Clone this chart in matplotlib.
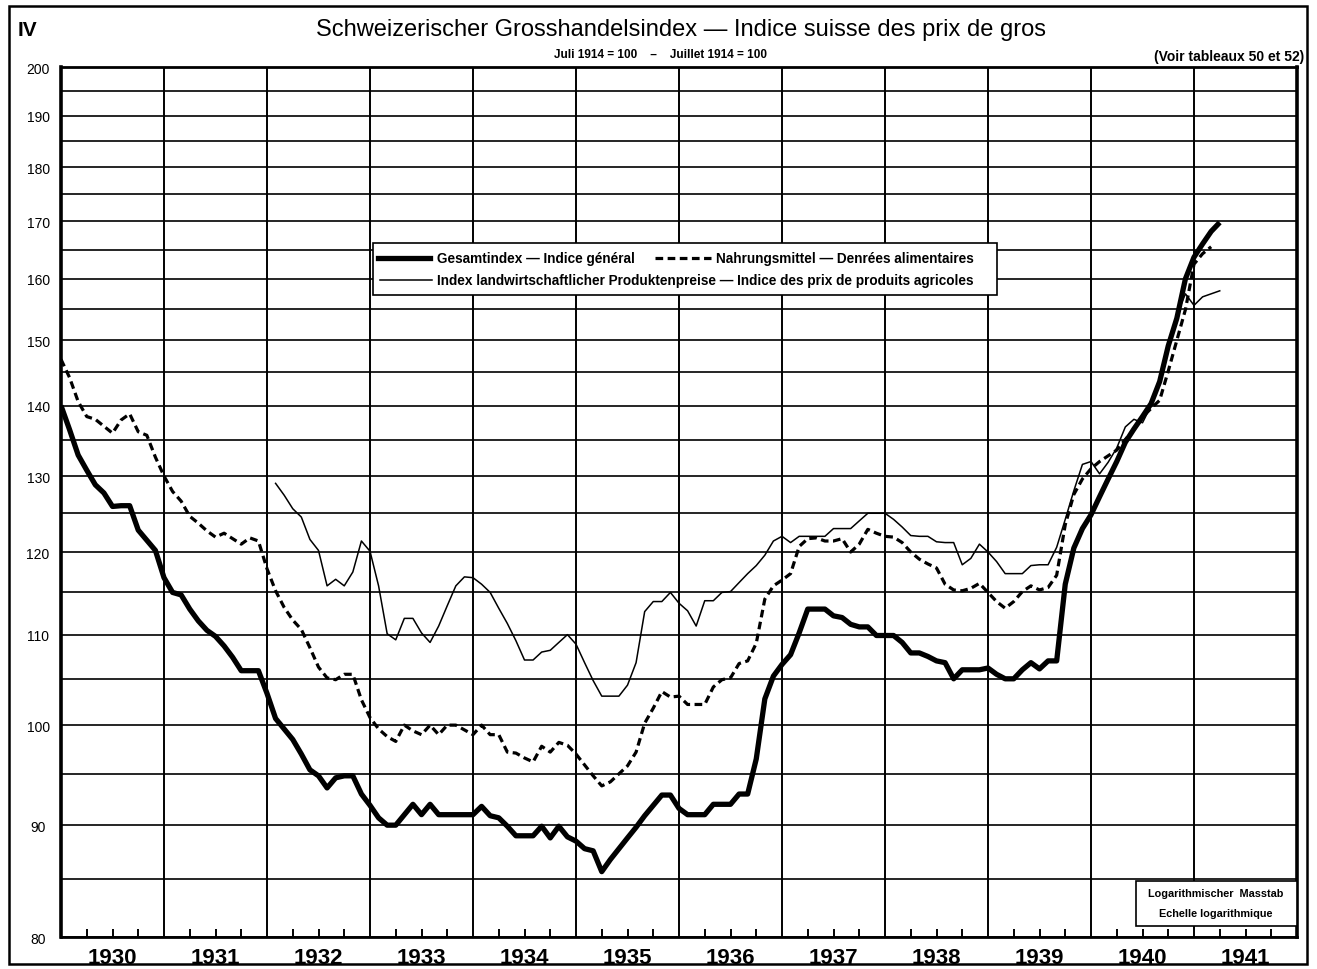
import matplotlib
matplotlib.use("Agg")
import matplotlib.pyplot as plt
import numpy as np
from matplotlib.lines import Line2D
from matplotlib.patches import Rectangle

plt.rcParams['font.family'] = ['Liberation Sans', 'DejaVu Sans']

# ---------------- data (monthly, starting January of the first year) ----------------
first_year = 1930
years = list(range(1930, 1942))
year_labels = [str(y) for y in years]
y_label_values = [80, 90, 100, 110, 120, 130, 140, 150, 160, 170, 180, 190, 200]
y_minor_values = [85, 95, 105, 115, 125, 135, 145, 155, 165, 175, 185, 195]

# Gesamtindex - Indice général
gesamt_1930 = [140.0, 136.5, 132.9, 130.8, 128.8, 127.7, 125.9, 126.0, 126.0, 122.8, 121.5, 120.2]
gesamt_1931 = [116.8, 115.0, 114.7, 113.0, 111.6, 110.5, 109.8, 108.7, 107.4, 105.9, 105.9, 105.9]
gesamt_1932 = [103.4, 100.7, 99.6, 98.5, 97.0, 95.4, 94.8, 93.6, 94.6, 94.8, 94.8, 93.0]
gesamt_1933 = [91.9, 90.7, 90.0, 90.0, 91.0, 92.0, 91.0, 92.0, 91.0, 91.0, 91.0, 91.0]
gesamt_1934 = [91.0, 91.8, 90.9, 90.7, 89.9, 89.0, 89.0, 89.0, 89.9, 88.8, 89.9, 88.9]
gesamt_1935 = [88.5, 87.8, 87.6, 85.7, 86.8, 87.8, 88.8, 89.8, 90.9, 91.9, 92.9, 92.9]
gesamt_1936 = [91.6, 91.0, 91.0, 91.0, 92.0, 92.0, 92.0, 93.0, 93.0, 96.5, 102.8, 105.3]
gesamt_1937 = [106.6, 107.7, 110.2, 113.0, 113.0, 113.0, 112.2, 112.0, 111.2, 110.9, 110.9, 109.9]
gesamt_1938 = [109.9, 109.9, 109.1, 107.9, 107.9, 107.5, 107.0, 106.8, 105.0, 106.0, 106.0, 106.0]
gesamt_1939 = [106.2, 105.5, 105.0, 105.0, 106.0, 106.8, 106.1, 107.0, 107.0, 116.0, 120.5, 123.0]
gesamt_1940 = [124.8, 127.2, 129.6, 132.0, 134.7, 136.6, 138.4, 140.3, 143.6, 149.1, 153.5, 160.0]
gesamt_1941 = [163.7, 166.0, 168.2, 169.8]

# Nahrungsmittel - Denrées alimentaires
nahrung_1930 = [147.0, 144.2, 140.6, 138.4, 138.0, 137.0, 136.0, 137.9, 138.8, 136.2, 135.7, 132.6]
nahrung_1931 = [130.0, 127.9, 126.6, 124.6, 123.7, 122.7, 121.9, 122.4, 121.7, 121.0, 121.8, 121.4]
nahrung_1932 = [117.9, 115.2, 113.2, 111.7, 110.6, 108.5, 106.3, 105.1, 104.9, 105.5, 105.5, 102.7]
nahrung_1933 = [100.8, 99.6, 98.8, 98.3, 100.0, 99.4, 99.0, 100.0, 99.0, 100.0, 100.0, 99.5]
nahrung_1934 = [99.0, 100.0, 99.0, 99.0, 97.2, 97.1, 96.6, 96.2, 97.8, 97.2, 98.2, 97.9]
nahrung_1935 = [97.0, 95.9, 94.8, 93.8, 94.2, 95.0, 95.8, 97.2, 100.2, 101.8, 103.6, 103.0]
nahrung_1936 = [103.1, 102.2, 102.2, 102.2, 104.1, 104.9, 105.1, 106.7, 107.0, 109.0, 114.2, 115.8]
nahrung_1937 = [116.5, 117.3, 120.7, 121.7, 121.8, 121.4, 121.4, 121.7, 120.0, 121.0, 122.9, 122.4]
nahrung_1938 = [122.0, 121.9, 121.2, 120.0, 119.1, 118.5, 118.0, 116.0, 115.3, 115.2, 115.5, 116.1]
nahrung_1939 = [115.0, 113.9, 113.1, 113.9, 115.1, 115.8, 115.3, 115.6, 117.1, 123.5, 127.5, 129.6]
nahrung_1940 = [131.0, 132.0, 132.8, 133.6, 135.1, 136.5, 138.3, 139.6, 140.8, 145.2, 150.0, 154.9]
nahrung_1941 = [162.5, 164.3, 165.5]

# Index landwirtschaftlicher Produktenpreise (begins February 1932)
agrar_first_month = 25
agrar_1932 = [129.0, 127.4, 125.6, 124.5, 121.6, 120.2, 115.8, 116.6, 115.8, 117.5, 121.4]
agrar_1933 = [120.1, 115.8, 110.1, 109.4, 111.9, 111.9, 110.2, 109.1, 111.0, 113.4, 115.8, 116.9]
agrar_1934 = [116.8, 116.0, 115.0, 113.1, 111.3, 109.3, 107.1, 107.1, 108.0, 108.2, 109.1, 110.0]
agrar_1935 = [108.9, 106.8, 104.8, 103.1, 103.1, 103.1, 104.3, 106.8, 112.7, 113.9, 113.9, 115.0]
agrar_1936 = [113.7, 112.8, 111.0, 114.0, 114.0, 115.0, 115.1, 116.2, 117.3, 118.3, 119.6, 121.4]
agrar_1937 = [122.0, 121.2, 122.0, 122.0, 122.0, 122.0, 123.0, 123.0, 123.0, 124.0, 125.0, 125.0]
agrar_1938 = [125.0, 124.2, 123.2, 122.1, 122.0, 122.0, 121.3, 121.2, 121.2, 118.4, 119.2, 121.0]
agrar_1939 = [120.0, 118.8, 117.3, 117.3, 117.3, 118.3, 118.4, 118.4, 120.6, 124.2, 128.0, 131.6]
agrar_1940 = [132.0, 130.3, 131.9, 133.9, 136.9, 138.0, 137.5, 140.0, 143.5, 149.0, 154.0, 157.5]
agrar_1941 = [155.6, 157.0, 157.5, 158.0]

gesamt = (gesamt_1930 + gesamt_1931 + gesamt_1932 + gesamt_1933 + gesamt_1934 + gesamt_1935 +
          gesamt_1936 + gesamt_1937 + gesamt_1938 + gesamt_1939 + gesamt_1940 + gesamt_1941)
nahrung = (nahrung_1930 + nahrung_1931 + nahrung_1932 + nahrung_1933 + nahrung_1934 + nahrung_1935 +
           nahrung_1936 + nahrung_1937 + nahrung_1938 + nahrung_1939 + nahrung_1940 + nahrung_1941)
agrar = (agrar_1932 + agrar_1933 + agrar_1934 + agrar_1935 + agrar_1936 + agrar_1937 +
         agrar_1938 + agrar_1939 + agrar_1940 + agrar_1941)


def month_x(start, n):
    return first_year + (start + np.arange(n)) / 12.0


# ---------------- figure ----------------
W, H = 1317, 970
fig = plt.figure(figsize=(W / 100, H / 100), dpi=100)
fig.patch.set_facecolor('white')

ax_left, ax_right, ax_top, ax_bottom = 61, 1297, 68, 938
ax = fig.add_axes([ax_left / W, 1 - ax_bottom / H, (ax_right - ax_left) / W, (ax_bottom - ax_top) / H])
ax.set_yscale('log')
ax.set_ylim(80, 200)
ax.set_xlim(years[0], years[-1] + 1)

# horizontal grid
ax.set_yticks(y_label_values)
ax.set_yticklabels([str(v) for v in y_label_values])
ax.set_yticks(y_minor_values, minor=True)
ax.yaxis.set_minor_formatter(matplotlib.ticker.NullFormatter())
ax.grid(axis='y', which='both', color='black', linewidth=1.2)
ax.tick_params(axis='y', which='both', length=0, pad=16.5, labelsize=10)
for t in ax.get_yticklabels():
    t.set_horizontalalignment('center')

# vertical year lines
for yb in years[1:]:
    ax.axvline(yb, color='black', linewidth=1.4, zorder=1)

# x ticks: quarter marks (major) + year labels (minor, centred)
quarters = [y + q for y in years for q in (0.25, 0.5, 0.75)]
ax.xaxis.remove_overlapping_locs = False
ax.set_xticks(quarters)
ax.set_xticklabels([])
ax.tick_params(axis='x', which='major', direction='in', length=6, width=1.4)
ax.set_xticks([y + 0.5 for y in years], minor=True)
ax.set_xticklabels(year_labels, minor=True)
ax.tick_params(axis='x', which='minor', length=0, pad=7, labelsize=16)
for t in ax.get_xticklabels(minor=True):
    t.set_fontweight('bold')

for s in ax.spines.values():
    s.set_linewidth(2.0)
ax.spines['left'].set_linewidth(2.6)
ax.spines['right'].set_linewidth(2.6)

# series
ax.plot(month_x(0, len(gesamt)), gesamt, color='black', linewidth=3.8,
        solid_joinstyle='round', solid_capstyle='butt', zorder=5)
ax.plot(month_x(0, len(nahrung)), nahrung, color='black', linewidth=2.3,
        linestyle=(0, (2.4, 1.4)), dash_joinstyle='round', dash_capstyle='butt', zorder=4)
ax.plot(month_x(agrar_first_month, len(agrar)), agrar, color='black', linewidth=1.1,
        solid_joinstyle='round', zorder=3)

# ---------------- texts ----------------
def fx(px):
    return px / W


def fy(py):
    return 1 - py / H


fig.text(fx(27), fy(30), 'IV', fontsize=15, fontweight='bold', ha='center', va='center')
fig.text(fx(681), fy(30),
         'Schweizerischer Grosshandelsindex \u2014 Indice suisse des prix de gros',
         fontsize=17, ha='center', va='center')
fig.text(fx(660), fy(55), 'Juli 1914 = 100    \u2013    Juillet 1914 = 100',
         fontsize=8.5, fontweight='bold', ha='center', va='center')
fig.text(fx(1304), fy(57), '(Voir tableaux 50 et 52)',
         fontsize=10, fontweight='bold', ha='right', va='center')

# legend box
fig.add_artist(Rectangle((fx(373), fy(296)), fx(997) - fx(373), fy(244) - fy(296),
                         transform=fig.transFigure, facecolor='white', edgecolor='black',
                         linewidth=1.2, zorder=10))
row1, row2 = 259, 281
leg_size = 9.8
fig.add_artist(Line2D([fx(378), fx(430)], [fy(row1), fy(row1)], transform=fig.transFigure,
                      color='black', linewidth=3.8, zorder=11))
fig.text(fx(437), fy(row1), 'Gesamtindex \u2014 Indice général', fontsize=leg_size,
         fontweight='bold', ha='left', va='center', zorder=11)
fig.add_artist(Line2D([fx(655), fx(711)], [fy(row1), fy(row1)], transform=fig.transFigure,
                      color='black', linewidth=2.3, linestyle=(0, (2.4, 1.4)), zorder=11))
fig.text(fx(716), fy(row1), 'Nahrungsmittel \u2014 Denrées alimentaires', fontsize=leg_size,
         fontweight='bold', ha='left', va='center', zorder=11)
fig.add_artist(Line2D([fx(380), fx(432)], [fy(row2), fy(row2)], transform=fig.transFigure,
                      color='black', linewidth=1.1, zorder=11))
fig.text(fx(437), fy(row2),
         'Index landwirtschaftlicher Produktenpreise \u2014 Indice des prix de produits agricoles',
         fontsize=leg_size, fontweight='bold', ha='left', va='center', zorder=11)

# scale note box
fig.add_artist(Rectangle((fx(1136), fy(927)), fx(1297) - fx(1136), fy(882) - fy(927),
                         transform=fig.transFigure, facecolor='white', edgecolor='black',
                         linewidth=1.2, zorder=10))
fig.text(fx(1216), fy(894), 'Logarithmischer  Masstab', fontsize=7.8, fontweight='bold',
         ha='center', va='center', zorder=11)
fig.text(fx(1216), fy(914), 'Echelle logarithmique', fontsize=7.8, fontweight='bold',
         ha='center', va='center', zorder=11)

# outer frame
fig.add_artist(Rectangle((fx(9), fy(965)), fx(1307) - fx(9), fy(7) - fy(965),
                         transform=fig.transFigure, facecolor='none', edgecolor='black',
                         linewidth=1.8, zorder=12))

fig.savefig('out.png', dpi=100)
